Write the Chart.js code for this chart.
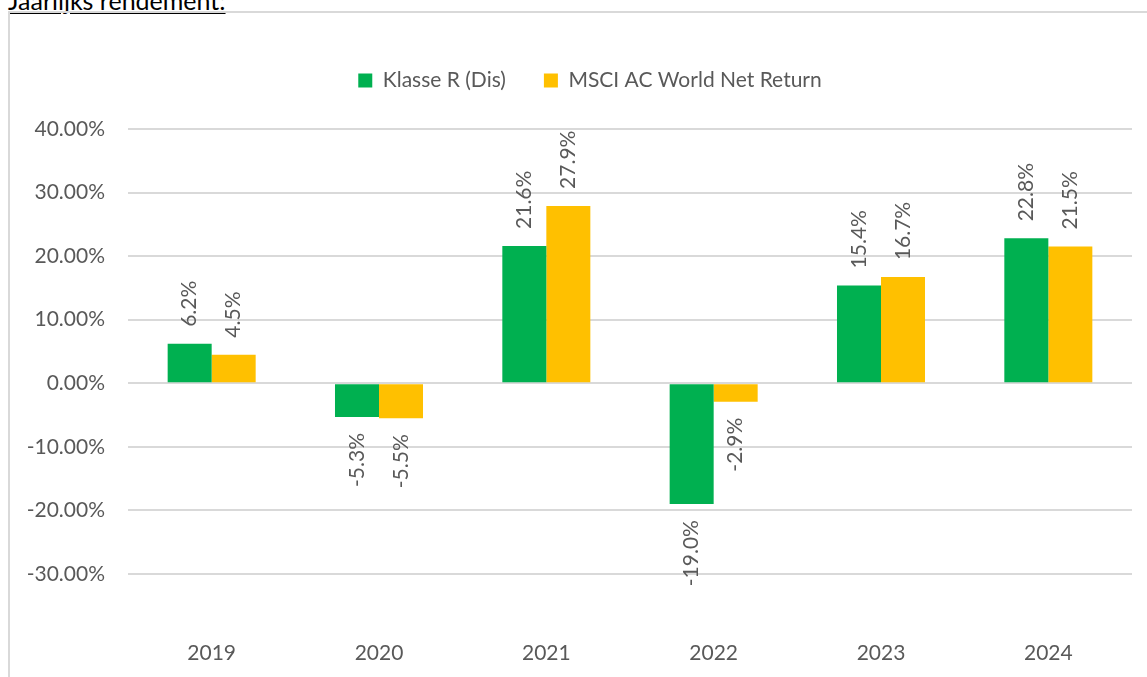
<!DOCTYPE html>
<html>
<head>
<meta charset="utf-8">
<script src="https://cdn.jsdelivr.net/npm/chart.js@4.4.1/dist/chart.umd.min.js"></script>
<style>
  body { margin: 0; background: #fff; overflow: hidden; }
  #wrap { position: relative; width: 1147px; height: 677px; }
  #titel {
    position: absolute; left: 8px; top: -12px;
    font-family: Lato, sans-serif; font-size: 25px; line-height: 25px;
    color: #000; text-decoration: underline;
  }
  #kader {
    position: absolute; left: 8px; top: 11px; width: 1300px; height: 800px;
    border: 2px solid #d9d9d9;
  }
  #myChart { position: absolute; left: 0; top: 0; }
</style>
</head>
<body>
<div id="wrap">
  <div id="titel">Jaarlijks rendement:</div>
  <div id="kader"></div>
  <canvas id="myChart" width="1147" height="677"></canvas>
</div>
<script>
var jaren = ["2019", "2020", "2021", "2022", "2023", "2024"];
var klasseR = [6.2, -5.3, 21.6, -19.0, 15.4, 22.8];
var msciAcwi = [4.5, -5.5, 27.9, -2.9, 16.7, 21.5];
var reeksNamen = ["Klasse R (Dis)", "MSCI AC World Net Return"];
var kleuren = ["#00B050", "#FFC000"];

var tekstKleur = "#595959";
var lettertype = { family: "Lato, sans-serif", size: 21 };

// rotated value labels above / below each bar
var waardeLabels = {
  id: "waardeLabels",
  afterDatasetsDraw: function (chart) {
    var ctx = chart.ctx;
    ctx.save();
    ctx.font = "21px Lato, sans-serif";
    ctx.fillStyle = tekstKleur;
    ctx.textBaseline = "middle";
    chart.data.datasets.forEach(function (ds, i) {
      var meta = chart.getDatasetMeta(i);
      meta.data.forEach(function (bar, j) {
        var v = ds.data[j];
        var txt = v.toFixed(1) + "%";
        ctx.save();
        if (v >= 0) {
          ctx.translate(bar.x, bar.y - 17);
          ctx.rotate(-Math.PI / 2);
          ctx.textAlign = "left";
        } else {
          ctx.translate(bar.x, bar.y + 16);
          ctx.rotate(-Math.PI / 2);
          ctx.textAlign = "right";
        }
        ctx.fillText(txt, 0, 0);
        ctx.restore();
      });
    });
    ctx.restore();
  }
};

// extra room under the legend, and nudge it to the right
var legendaRuimte = {
  id: "legendaRuimte",
  beforeInit: function (chart) {
    var origFit = chart.legend.fit;
    chart.legend.fit = function () {
      origFit.call(this);
      this.height += 28;
    };
  },
  afterLayout: function (chart) {
    chart.legend.left += 19;
    chart.legend.right += 19;
  }
};

new Chart("myChart", {
  type: "bar",
  data: {
    labels: jaren,
    datasets: [
      { label: reeksNamen[0], data: klasseR, backgroundColor: kleuren[0] },
      { label: reeksNamen[1], data: msciAcwi, backgroundColor: kleuren[1] }
    ]
  },
  options: {
    responsive: false,
    maintainAspectRatio: false,
    animation: false,
    layout: { padding: { left: 10, right: 15, top: 32, bottom: 11 } },
    datasets: { bar: { categoryPercentage: 0.526, barPercentage: 1.0 } },
    plugins: {
      legend: {
        position: "top",
        labels: {
          boxWidth: 14, boxHeight: 14, padding: 38,
          color: tekstKleur, font: lettertype
        }
      },
      tooltip: { enabled: false }
    },
    scales: {
      x: {
        afterFit: function (axis) { axis.height = 92; },
        grid: { display: false, drawTicks: false },
        border: { display: false },
        ticks: { color: tekstKleur, font: lettertype, padding: 67 }
      },
      y: {
        min: -30, max: 40,
        afterFit: function (axis) { axis.width = 118; },
        grid: { color: "#d9d9d9", lineWidth: 2, drawTicks: false },
        border: { display: false },
        ticks: {
          stepSize: 10, color: tekstKleur, font: lettertype, padding: 23,
          callback: function (v) { return v.toFixed(2) + "%"; }
        }
      }
    }
  },
  plugins: [waardeLabels, legendaRuimte]
});
</script>
</body>
</html>
